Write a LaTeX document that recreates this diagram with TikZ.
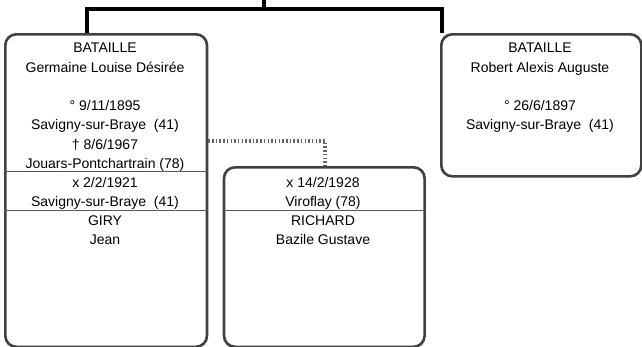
\documentclass[tikz,border=0pt]{standalone}
\usepackage{fontspec}
\setmainfont{Liberation Sans}
\begin{document}
\begin{tikzpicture}[
        x=1pt, y=-1pt,
        font=\fontsize{14}{16}\selectfont
    ]
    \tikzset{
        personbox/.style = {draw=black!75, line width=2.6pt, rounded corners=11pt, inner sep=0pt, anchor=north west},
        entry/.style = {anchor=base, inner sep=0pt},
        divider/.style = {draw=black!65, line width=0.9pt},
        famline/.style = {draw=black, line width=4pt},
        unionline/.style = {draw=black!60, line width=4pt, dash pattern=on 1.5pt off 2.2pt},
    }
    \useasboundingbox (0,0) rectangle (642,346);
    \clip (0,0) rectangle (642,346);
    % boxes
    \node[personbox, minimum width=201.7pt, minimum height=312.5pt] (germaine) at (4,33) {};
    \node[personbox, minimum width=200pt, minimum height=142pt] (robert) at (440,33) {};
    \node[personbox, minimum width=200.6pt, minimum height=179.5pt] (bazile) at (222.7,166) {};
    \draw[divider] (germaine.west |- 0,171.7) -- (germaine.east |- 0,171.7);
    \draw[divider] (germaine.west |- 0,210.7) -- (germaine.east |- 0,210.7);
    \draw[divider] (bazile.west |- 0,210.3) -- (bazile.east |- 0,210.3);
    % links
    \coordinate (parents) at (264,-2);
    \coordinate (sibbar) at (264,8.7);
    \coordinate (gtop) at (87,33);
    \coordinate (rtop) at (442,33);
    \coordinate (umid) at (325,141);
    \draw[famline] (parents) -- (sibbar);
    \draw[famline] (gtop) |- (sibbar) -| (rtop);
    \draw[unionline] (germaine.east |- umid) -- (umid) -- (umid |- bazile.north);
    % Germaine
    \node[entry] (gname) at (105,52.5) {BATAILLE};
    \node[entry] (gfirst) at (105,72) {Germaine Louise Désirée};
    \node[entry] (gbirth) at (105,110.5) {° 9/11/1895};
    \node[entry] (gbirthplace) at (105,129.5) {Savigny-sur-Braye~~(41)};
    \node[entry] (gdeath) at (105,149) {† 8/6/1967};
    \node[entry] (gdeathplace) at (105,168.5) {Jouars-Pontchartrain (78)};
    \node[entry] (gwed) at (105,187.5) {x 2/2/1921};
    \node[entry] (gwedplace) at (105,206) {Savigny-sur-Braye~~(41)};
    \node[entry] (gspouse) at (105,225) {GIRY};
    \node[entry] (gspousefirst) at (105,244) {Jean};
    % Robert
    \node[entry] (rname) at (540,52.5) {BATAILLE};
    \node[entry] (rfirst) at (540,72) {Robert Alexis Auguste};
    \node[entry] (rbirth) at (540,110.5) {° 26/6/1897};
    \node[entry] (rbirthplace) at (540,129.5) {Savigny-sur-Braye~~(41)};
    % second marriage
    \node[entry] (bwed) at (323,187.5) {x 14/2/1928};
    \node[entry] (bwedplace) at (323,206) {Viroflay (78)};
    \node[entry] (bname) at (323,225) {RICHARD};
    \node[entry] (bfirst) at (323,244) {Bazile Gustave};
\end{tikzpicture}
\end{document}
